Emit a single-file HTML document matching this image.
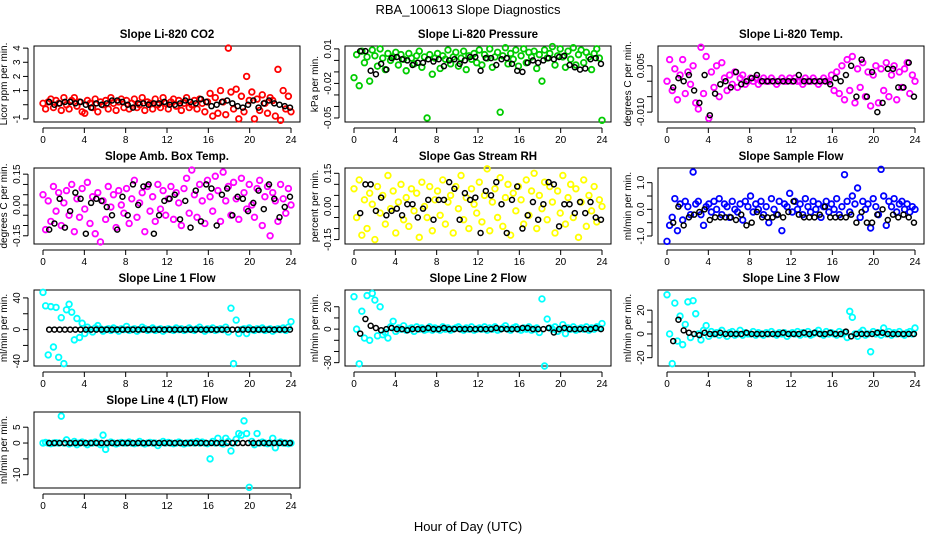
<!DOCTYPE html>
<html><head><meta charset="utf-8"><style>
html,body{margin:0;padding:0;background:#fff;}
svg{display:block;font-family:"Liberation Sans",sans-serif;}
</style></head><body>
<svg id="chart" width="936" height="540" viewBox="0 0 936 540" xmlns="http://www.w3.org/2000/svg">
<text x="468" y="14" text-anchor="middle" font-size="13">RBA_100613  Slope Diagnostics</text>
<text x="468" y="531" text-anchor="middle" font-size="13">Hour of Day (UTC)</text>
</svg>
<script>
const xTicks=[0,4,8,12,16,20,24];
const titles=["Slope Li-820 CO2","Slope Li-820 Pressure","Slope Li-820 Temp.","Slope Amb. Box Temp.","Slope Gas Stream RH","Slope Sample Flow","Slope Line 1 Flow","Slope Line 2 Flow","Slope Line 3 Flow","Slope Line 4 (LT) Flow"];
const yLabels=["Licor ppm per min.","kPa per min.","degrees C per min.","degrees C per min.","percent per min.","ml/min per min.","ml/min per min.","ml/min per min.","ml/min per min.","ml/min per min."];
const colors=["#ff0000","#00cc00","#ff00ff","#ff00ff","#ffff00","#0000ff","#00ffff","#00ffff","#00ffff","#00ffff"];
const yTicks=[[-1,0,1,2,3,4],[0.01,0,-0.01,-0.02,-0.03,-0.04,-0.05],[0.005,0,-0.005,-0.01],[0.15,0.1,0.05,0,-0.05,-0.1,-0.15],[0.15,0.1,0.05,0,-0.05,-0.1,-0.15],[1,0.5,0,-0.5,-1],[40,20,0,-20,-40],[20,10,0,-10,-20,-30],[20,10,0,-10,-20],[5,0,-5,-10]];
const yTickLabels=[["-1","","1","2","3","4"],["0.01","","","-0.02","","","-0.05"],["0.005","","","-0.010"],["0.15","","","0.00","","","-0.15"],["0.15","","","0.00","","","-0.15"],["1.0","","0.0","","-1.0"],["40","","0","","-40"],["20","","0","","","-30"],["20","","0","","-20"],["5","0","","-10"]];
const c0=[0.1,-0.3,0.2,0.4,-0.2,0.3,0.1,-0.4,0.5,0.0,-0.3,0.3,0.5,-0.1,0.2,-0.5,-0.6,0.3,0.1,-0.2,0.4,-0.5,0.2,0.0,0.3,-0.3,0.5,0.1,-0.4,0.2,0.4,-0.2,0.3,-0.3,0.1,0.4,-0.2,0.0,0.5,-0.4,0.2,0.1,-0.3,0.4,0.0,-0.2,0.5,0.1,-0.3,0.2,0.4,-0.1,0.3,-0.4,0.1,0.5,-0.2,0.0,0.3,-0.3,0.4,0.1,-0.5,0.2,0.8,-0.8,0.5,-0.6,1.0,0.2,-0.7,4.0,0.9,-0.3,1.1,-1.0,0.6,-0.5,2.0,0.3,0.9,-1.0,0.4,-0.4,0.7,0.1,-0.6,0.5,0.3,-0.8,2.5,-1.1,1.0,-0.3,0.6,-0.5];
const b0=[0.2,0.0,0.1,0.2,0.2,0.1,0.2,0.0,-0.2,0.1,0.0,0.1,0.3,0.3,0.2,0.0,-0.2,0.1,0.1,0.0,0.1,0.1,0.2,0.0,0.0,0.1,0.3,0.2,0.1,0.4,0.2,-0.1,0.0,0.2,0.3,0.1,-0.1,-0.2,0.0,0.3,-0.2,0.1,0.3,0.1,0.0,-0.1,-0.2];
const c1=[-0.015,0.005,-0.022,0.008,-0.002,0.003,-0.018,0.009,0.004,-0.005,0.010,0.002,-0.008,0.006,0.000,0.003,0.007,-0.004,0.005,0.001,-0.009,0.006,0.002,-0.003,0.004,0.008,-0.006,0.003,-0.050,0.005,-0.012,0.002,0.006,-0.007,0.004,0.001,0.009,-0.003,0.003,0.007,-0.005,0.002,0.008,-0.008,0.004,0.001,0.006,-0.002,0.009,-0.004,0.005,0.002,0.010,-0.006,0.003,0.007,-0.045,0.004,0.011,-0.003,0.006,0.001,0.009,-0.005,0.004,0.010,-0.002,0.007,0.003,0.008,-0.007,0.005,-0.018,0.009,0.002,0.006,0.012,-0.004,0.004,0.010,0.003,-0.006,0.008,0.001,0.011,-0.004,0.005,0.009,-0.002,0.007,0.003,-0.008,0.006,0.010,0.002,-0.052];
const b1=[0.008,0.008,-0.009,-0.012,-0.003,-0.008,0.002,0.003,0.001,0.000,-0.004,-0.002,-0.002,0.001,-0.001,0.001,-0.005,0.000,0.001,-0.003,0.000,0.003,0.003,-0.009,0.002,0.002,-0.004,0.001,0.002,-0.003,-0.009,-0.010,-0.002,0.000,-0.002,0.000,0.002,0.001,0.003,0.004,-0.004,-0.006,-0.008,-0.007,0.001,0.002,-0.003];
const c2=[0.000,0.007,-0.003,0.004,-0.006,0.002,0.007,-0.004,0.003,-0.001,0.005,-0.007,-0.009,0.011,-0.004,0.008,-0.012,0.003,-0.002,0.005,-0.005,0.006,0.001,-0.003,0.002,-0.001,0.003,-0.002,0.001,0.002,-0.001,0.000,0.001,0.000,0.001,-0.001,0.000,0.001,0.000,0.000,0.001,0.000,-0.001,0.000,0.001,0.000,0.000,0.001,0.000,0.001,0.000,0.000,-0.001,0.001,0.000,0.000,0.001,0.000,-0.001,0.000,0.001,0.000,0.000,0.002,-0.003,0.003,-0.004,0.005,-0.006,0.007,-0.003,0.008,-0.007,0.004,-0.002,0.006,-0.005,0.003,-0.008,0.002,0.005,-0.007,0.004,-0.003,0.006,-0.005,0.002,0.005,-0.006,0.003,-0.002,0.004,0.006,-0.004,0.002,0.000];
const b2=[-0.002,0.001,0.000,0.002,-0.003,-0.007,0.002,-0.011,-0.004,-0.001,0.000,-0.002,0.003,-0.001,0.000,0.001,0.002,0.000,0.000,0.000,0.000,0.000,0.000,0.000,0.002,0.000,0.000,0.000,0.000,0.000,-0.001,0.001,0.000,0.002,0.005,-0.005,0.007,-0.005,0.003,-0.010,-0.007,0.004,0.004,-0.002,-0.002,0.006,-0.005];
const c3=[0.05,-0.12,0.02,-0.08,0.09,-0.03,0.06,-0.10,0.01,0.07,-0.05,0.10,-0.13,0.03,-0.06,0.08,-0.02,0.11,-0.09,0.04,-0.14,0.06,-0.18,0.02,-0.07,0.09,-0.01,0.05,-0.11,0.07,0.00,-0.04,0.08,-0.09,0.03,0.12,-0.06,0.01,0.06,-0.13,0.09,-0.03,0.04,-0.08,0.10,-0.02,0.07,-0.05,0.03,0.09,-0.07,0.06,0.01,-0.10,0.08,0.13,-0.04,0.17,0.05,-0.06,0.10,0.02,-0.09,0.12,0.04,-0.03,0.14,0.07,-0.08,0.16,0.02,0.09,-0.05,0.11,0.03,-0.07,0.13,0.06,-0.02,0.10,0.00,-0.06,0.08,0.12,-0.10,0.04,0.09,-0.15,0.06,0.02,-0.08,0.10,0.03,-0.04,0.08,0.00];
const b3=[-0.12,-0.09,0.03,-0.11,-0.03,0.06,0.03,-0.14,0.01,0.03,0.02,-0.01,-0.05,-0.12,0.04,-0.05,0.10,0.00,0.09,0.10,-0.14,-0.05,0.02,0.03,0.05,-0.07,0.02,-0.11,0.07,-0.08,0.10,0.08,-0.10,0.05,0.08,-0.05,0.04,0.03,-0.03,0.01,0.07,-0.02,0.10,0.03,-0.06,-0.01,0.04];
const c4=[0.08,-0.05,0.12,-0.13,0.03,-0.10,0.06,0.01,-0.15,0.09,-0.03,0.05,-0.08,0.14,-0.01,0.07,-0.12,0.02,0.10,-0.06,0.04,-0.09,0.08,-0.02,0.06,-0.14,0.11,0.00,-0.05,0.09,-0.11,0.03,0.07,-0.04,0.12,-0.08,0.02,0.05,-0.12,0.09,-0.01,0.14,-0.06,0.04,-0.10,0.08,0.01,-0.03,0.11,-0.07,0.05,0.17,-0.11,0.02,0.08,-0.05,0.13,-0.09,0.04,0.10,-0.13,0.06,-0.02,0.09,0.03,-0.08,0.12,-0.04,0.07,0.15,-0.10,0.05,-0.01,0.11,-0.06,0.09,0.02,-0.12,0.07,-0.03,0.14,-0.08,0.04,0.10,-0.05,0.08,-0.14,0.02,0.12,-0.09,0.05,-0.02,0.09,-0.07,0.03,0.00];
const b4=[-0.03,0.10,0.10,-0.02,0.04,-0.04,-0.02,-0.01,-0.04,0.01,0.01,-0.05,-0.01,0.03,-0.06,0.03,0.03,0.11,0.08,-0.06,0.06,0.03,0.04,-0.12,0.07,0.05,0.11,0.01,-0.12,0.03,0.09,-0.10,-0.04,0.02,-0.06,0.01,0.11,0.10,-0.09,0.01,0.01,-0.03,0.02,-0.03,0.02,-0.05,-0.06];
const c5=[-1.2,-0.6,-0.3,0.4,-0.8,0.2,-0.4,0.3,0.1,-0.2,1.4,0.2,0.3,-0.2,-0.6,0.1,0.2,-0.1,0.3,0.0,0.4,-0.2,0.2,0.1,-0.3,0.3,0.0,-0.1,0.2,-0.4,0.3,0.1,0.5,-0.1,0.2,0.0,0.3,-0.2,0.1,-0.5,0.4,0.0,-0.2,0.3,-0.8,0.2,0.1,0.6,-0.1,0.3,0.0,0.2,-0.2,0.4,0.1,-0.1,0.3,0.0,0.2,-0.3,0.1,0.3,-0.1,0.2,0.0,0.4,-0.2,0.1,1.3,0.3,-0.1,0.5,0.2,0.8,-0.3,0.3,0.0,0.2,-0.7,0.4,0.1,-0.2,1.5,0.5,-0.6,0.3,0.1,0.4,-0.1,0.2,0.3,0.0,0.2,-0.1,0.1,0.0];
const b5=[-0.5,0.1,-0.6,-0.3,-0.2,-0.1,0.0,-0.4,-0.3,-0.3,-0.3,-0.3,-0.4,-0.2,-0.6,-0.5,-0.1,-0.3,-0.3,-0.3,-0.2,-0.3,-0.1,0.3,-0.2,-0.3,-0.3,-0.3,-0.2,0.1,-0.3,-0.3,-0.3,-0.3,-0.2,-0.5,-0.1,-0.5,-0.5,-0.2,0.0,-0.4,-0.2,-0.3,-0.2,-0.3,-0.5];
const c6=[47,30,-32,29,-22,28,-35,15,-43,25,32,22,-13,14,-10,8,-5,3,0,-3,2,5,1,-2,0,1,-1,2,0,-2,1,0,4,-1,0,1,-2,0,3,1,-1,0,2,-1,0,1,-2,0,1,0,-1,2,0,1,-1,0,2,0,-1,1,3,0,-2,1,0,2,-1,0,1,0,3,-3,27,-43,12,-5,0,1,-5,2,0,-1,1,0,2,-1,0,1,-2,0,1,0,2,-1,3,10];
const b6=[0,0,0,0,0,0,0,0,0,0,0,0,0,0,0,0,0,0,0,0,0,0,0,0,0,0,0,0,0,0,0,0,0,0,0,0,0,0,0,0,0,0,0,0,0,0,0];
const c7=[29,0,-31,16,-8,30,-10,32,26,-6,20,-5,-3,-8,2,7,-2,1,0,3,-1,0,1,-2,2,0,1,-1,0,2,-1,1,0,-1,2,0,1,-1,0,1,2,0,-1,1,0,2,-1,0,1,0,2,-1,1,0,2,-1,0,1,3,0,-1,1,2,0,-1,1,0,2,-1,0,1,-3,27,-33,9,1,0,2,-2,0,4,-4,1,0,2,-1,0,1,0,2,-1,1,0,2,1,5];
const b7=[-4,9,3,1,-1,0,1,0,0,-1,0,0,0,1,0,0,1,0,0,0,0,0,0,0,0,0,1,0,0,0,0,1,1,0,0,0,1,-3,0,1,0,0,0,0,0,1,0];
const c8=[33,0,-25,26,-6,15,-9,8,27,-3,28,17,0,-5,3,7,-2,2,0,1,-1,3,0,-2,1,2,-1,0,3,-1,1,0,0,2,-1,1,0,-1,1,0,2,0,-1,1,0,1,-2,0,1,0,2,-1,1,0,2,-1,0,1,3,0,-1,2,0,1,0,-1,2,0,1,-3,19,14,0,-2,1,3,-1,0,-15,2,0,1,-1,5,0,2,-1,1,0,2,0,-1,1,2,0,5];
const b8=[-6,12,3,1,0,-1,1,0,0,1,0,0,0,0,1,0,0,0,0,0,0,1,0,0,0,1,0,1,0,0,1,0,0,2,-2,0,0,0,0,1,1,0,0,0,0,0,0];
const c9=[0,0.2,0,-0.2,0,0.1,0,8.5,0,1,-0.3,0,0.5,-0.5,0,0.3,0,-0.5,0,0,0.3,0,-0.5,2.5,-2,0,0.3,0,-0.3,0,0.2,0,0,0.3,0,-0.2,0,0.5,0,-0.3,0,0.2,0,0,-0.8,0,0.5,0,0.2,0,-0.2,0,0.3,0,-0.3,0,0,0.2,0,0.5,0,0.3,0,-0.2,-5,0.5,0,1.5,0,-0.3,1.5,0.5,-2.5,0,1.2,3,2.5,7,3,-14,0.5,-0.5,3,0,0.3,0,-0.2,0,1.5,-1.5,0,0.3,0,0,-0.2,0];
const b9=[0,0,0,0,0,0,0,0,0,0,0,0,0,0,0,0,0,0,0,0,0,0,0,0,0,0,0,0,0,0,0,0,0,0,0,0,0,0,0,0,0,0,0,0,0,0,0];
const colorSeries=[c0,c1,c2,c3,c4,c5,c6,c7,c8,c9];
const blackSeries=[b0,b1,b2,b3,b4,b5,b6,b7,b8,b9];
const yDomains=[[-1.22,4.15],[-0.0535,0.0125],[-0.0132,0.0114],[-0.19,0.18],[-0.17,0.174],[-1.3,1.55],[-46,50],[-33,35],[-27,37],[-14.2,9.8]];

const svg=document.getElementById('chart');
const NS='http://www.w3.org/2000/svg';
function mk(tag,attrs,parent){const e=document.createElementNS(NS,tag);for(const k in attrs)e.setAttribute(k,attrs[k]);(parent||svg).appendChild(e);return e;}
const colLeft=[34,345,658];const rowTop=[46,168,290,412];const boxW=266,boxH=76;
for(let p=0;p<10;p++){
  const col=p%3,row=Math.floor(p/3);
  const L=colLeft[col],T=rowTop[row],B=T+boxH,R=L+boxW;
  const g=mk('g',{});
  
  
  const xs=v=>L+9+v/24*(boxW-18);
  const [y0,y1]=yDomains[p];
  const ys=v=>B-(v-y0)/(y1-y0)*boxH;
  const t=mk('text',{x:(L+R)/2,y:T-8,'text-anchor':'middle','font-size':'11.5','font-weight':'bold'},g);t.textContent=titles[p];
  
  
  const box=mk('rect',{x:L,y:T,width:boxW,height:boxH,fill:'none',stroke:'#000','stroke-width':1},g);
  
  
  mk('line',{x1:xs(0),x2:xs(24),y1:B+6,y2:B+6,stroke:'#000'},g);
  xTicks.forEach(v=>{mk('line',{x1:xs(v),x2:xs(v),y1:B+6,y2:B+11,stroke:'#000'},g);
    const tl=mk('text',{x:xs(v),y:B+21,'text-anchor':'middle','font-size':'10'},g);tl.textContent=v;
    
    });
  const yt=yTicks[p];
  mk('line',{x1:L-6,x2:L-6,y1:ys(yt[0]),y2:ys(yt[yt.length-1]),stroke:'#000'},g);
  const labs=yTickLabels[p];
  yt.forEach((v,i)=>{mk('line',{x1:L-11,x2:L-6,y1:ys(v),y2:ys(v),stroke:'#000'},g);
    const s=labs[i];if(!s)return;const yy=ys(v);
    const tl=mk('text',{x:L-14,y:yy,'text-anchor':'middle','font-size':'10',transform:`rotate(-90 ${L-14} ${yy})`},g);tl.textContent=s;
    
    });
  const yl=mk('text',{x:L-27,y:(T+B)/2,'text-anchor':'middle','font-size':'10',transform:`rotate(-90 ${L-27} ${(T+B)/2})`},g);yl.textContent=yLabels[p];
  
  
  const cs=colorSeries[p];
  cs.forEach((v,i)=>{const c=mk('circle',{cx:xs(i*24/(cs.length-1)),cy:ys(v),r:2.8,fill:'none',stroke:colors[p],'stroke-width':1.8},g);
    
    });
  const bs=blackSeries[p];
  bs.forEach((v,i)=>{const c=mk('circle',{cx:xs(0.6+i*23.3/(bs.length-1)),cy:ys(v),r:2.5,fill:'none',stroke:'#000','stroke-width':1.5},g);
    
    });
}
</script>
</body></html>
